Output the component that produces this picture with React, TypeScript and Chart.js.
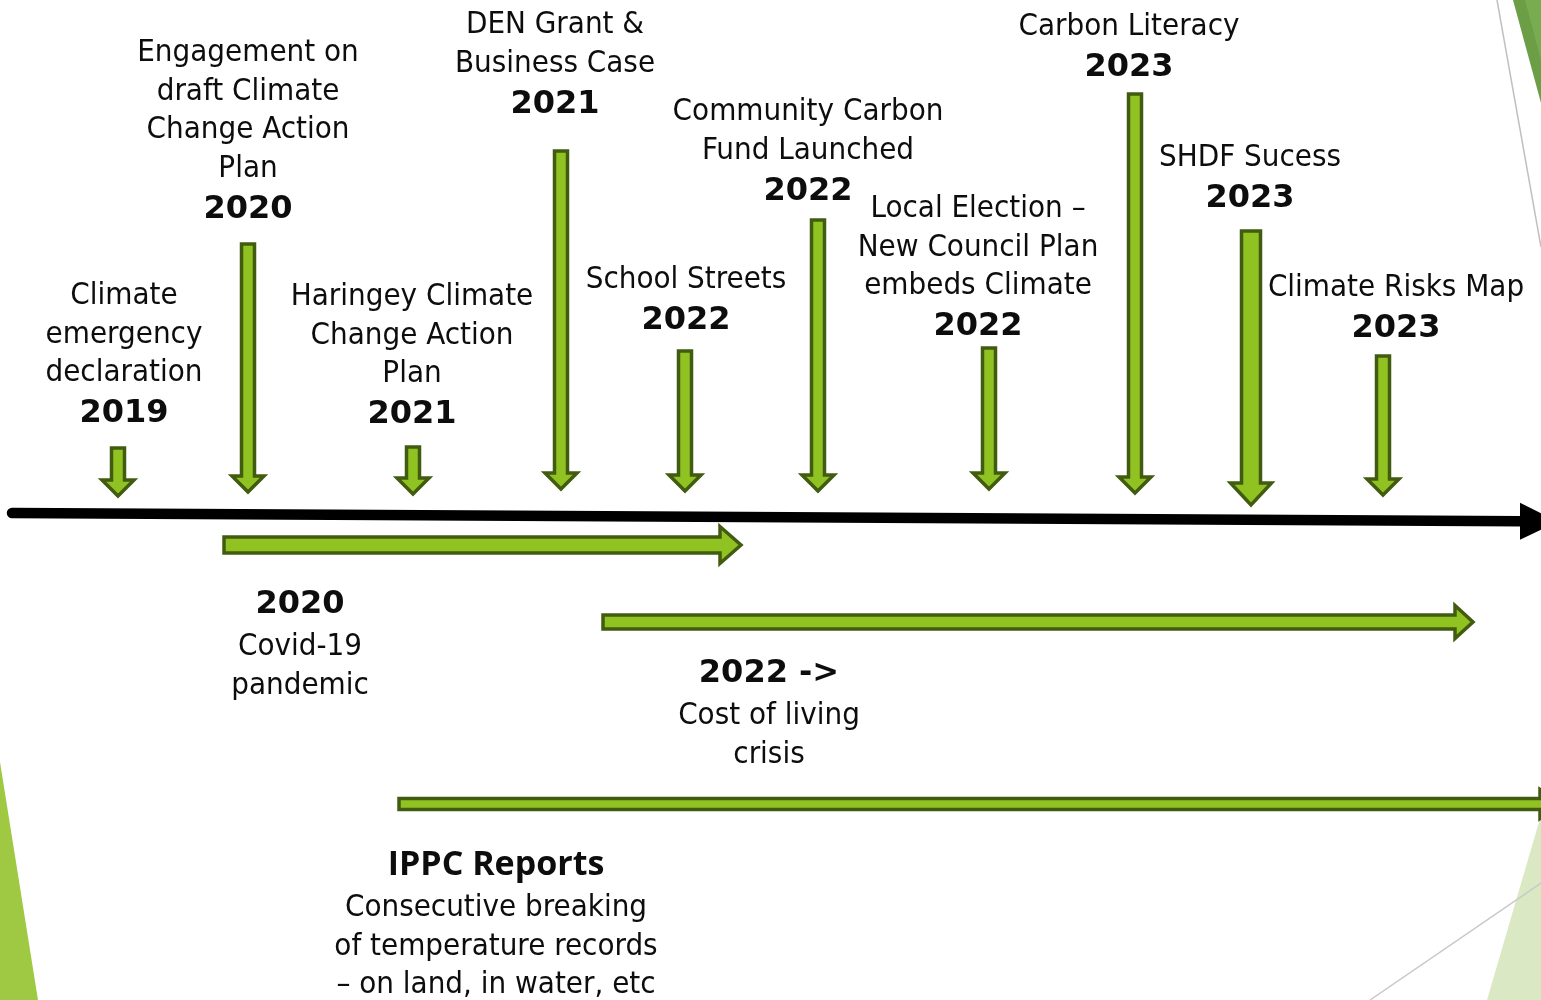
import React, { useEffect, useRef } from "react";
import { Chart, registerables } from "chart.js";

Chart.register(...registerables);

// ---- Events on the timeline (down arrows) ----
const eventTitles: string[][] = [
  ["Climate", "emergency", "declaration"],
  ["Engagement on", "draft Climate", "Change Action", "Plan"],
  ["Haringey Climate", "Change Action", "Plan"],
  ["DEN Grant &", "Business Case"],
  ["School Streets"],
  ["Community Carbon", "Fund Launched"],
  ["Local Election –", "New Council Plan", "embeds Climate"],
  ["Carbon Literacy"],
  ["SHDF Sucess"],
  ["Climate Risks Map"],
];
const eventYears = ["2019", "2020", "2021", "2021", "2022", "2022", "2022", "2023", "2023", "2023"];
const eventArrowX = [118, 248, 413, 561, 685, 818, 989, 1135, 1251, 1383];
const eventArrowTop = [448, 244, 447, 151, 351, 220, 348, 94, 231, 356];
const eventArrowTip = [496, 492, 494, 489, 491, 491, 489, 493, 505, 495];
const eventLabelX = [124, 248, 412, 555, 686, 808, 978, 1129, 1250, 1396];
const eventLabelTop = [293, 50, 294, 22, 277, 109, 206, 24, 155, 285];

// ---- Periods (right arrows) ----
const periodTitles = ["2020", "2022 ->", "IPPC Reports"];
const periodLines: string[][] = [
  ["Covid-19", "pandemic"],
  ["Cost of living", "crisis"],
  ["Consecutive breaking", "of temperature records", "– on land, in water, etc"],
];
const periodStart = [224, 603, 399];
const periodEnd = [741, 1473, 1562];
const periodY = [545, 622, 804];
const periodLabelX = [300, 769, 496];
const periodLabelTop = [602, 671, 862];

// ---- Main timeline ----
const timelineStart = { x: 12, y: 513 };
const timelineEnd = { x: 1558, y: 521.5 };

// ---- Styles ----
const FILL = "#90c222";
const STROKE = "#415c10";
const TEXT = "#0d0d0d";
const NORMAL_FONT = '31px "DejaVu Sans Condensed", "DejaVu Sans", sans-serif';
const YEAR_FONT = 'bold 32px "DejaVu Sans", sans-serif';
const IPPC_FONT = 'bold 34px "Open Sans", sans-serif';
const LINE_H = 38.7;
const TEXT_SHIFT = 3;
const downStyle = (i: number) =>
  i === 8 ? { sw: 9.5, hw: 20.5, hh: 22 } : { sw: 6.5, hw: 16, hh: 16 };
const periodStyle = [
  { sh: 8, hh: 18.5, hl: 21 },
  { sh: 7, hh: 16.5, hl: 18 },
  { sh: 5.5, hh: 14.5, hl: 22 },
];

const diagramPlugin = {
  id: "diagram",
  beforeDatasetsDraw(chart: any) {
    const ctx: CanvasRenderingContext2D = chart.ctx;
    const xs = chart.scales.x;
    const ys = chart.scales.y;
    const P = (x: number, y: number) => [xs.getPixelForValue(x), ys.getPixelForValue(y)];
    const poly = (pts: number[][], fill: string) => {
      ctx.beginPath();
      pts.forEach(([x, y], i) => {
        const [px, py] = P(x, y);
        if (i === 0) ctx.moveTo(px, py);
        else ctx.lineTo(px, py);
      });
      ctx.closePath();
      ctx.fillStyle = fill;
      ctx.fill();
    };
    const line = (a: number[], b: number[], color: string, w: number) => {
      const [ax, ay] = P(a[0], a[1]);
      const [bx, by] = P(b[0], b[1]);
      ctx.beginPath();
      ctx.moveTo(ax, ay);
      ctx.lineTo(bx, by);
      ctx.strokeStyle = color;
      ctx.lineWidth = w;
      ctx.stroke();
    };
    ctx.save();
    // decorative corners
    poly([[1513, 0], [1541, 0], [1541, 103]], "#6b9e45");
    poly([[1525, 0], [1541, 0], [1541, 60]], "#79ab50");
    line([1497, 0], [1541, 247], "#c0c0c0", 1.5);
    poly([[0, 762], [38, 1000], [0, 1000]], "#9fc943");
    poly([[1541, 815], [1487, 1000], [1541, 1000]], "#dbe8c4");
    line([1370, 1000], [1541, 883], "#c8c8c8", 1.5);
    ctx.restore();
  },
  afterDatasetsDraw(chart: any) {
    const ctx: CanvasRenderingContext2D = chart.ctx;
    const xs = chart.scales.x;
    const ys = chart.scales.y;
    const px = (v: number) => xs.getPixelForValue(v);
    const py = (v: number) => ys.getPixelForValue(v);
    ctx.save();

    // main black timeline
    const x0 = px(timelineStart.x), y0 = py(timelineStart.y);
    const x1 = px(timelineEnd.x), y1 = py(timelineEnd.y);
    const headStart = x1 - 38;
    const yAt = (x: number) => y0 + ((x - x0) * (y1 - y0)) / (x1 - x0);
    ctx.beginPath();
    ctx.moveTo(x0, y0);
    ctx.lineTo(headStart + 2, yAt(headStart + 2));
    ctx.strokeStyle = "#000";
    ctx.lineWidth = 10.5;
    ctx.lineCap = "round";
    ctx.stroke();
    ctx.beginPath();
    ctx.moveTo(headStart, yAt(headStart) - 18.5);
    ctx.lineTo(x1, y1);
    ctx.lineTo(headStart, yAt(headStart) + 18.5);
    ctx.closePath();
    ctx.fillStyle = "#000";
    ctx.fill();

    ctx.lineJoin = "miter";
    ctx.lineCap = "butt";
    ctx.lineWidth = 3.5;
    ctx.fillStyle = FILL;
    ctx.strokeStyle = STROKE;

    // period arrows
    const pMeta = chart.getDatasetMeta(1);
    pMeta.data.forEach((el: any, i: number) => {
      const raw = chart.data.datasets[1].data[i];
      const sx = el.x;
      const cy = el.y;
      const tip = px(raw.end);
      const s = periodStyle[i];
      const hs = tip - s.hl;
      ctx.beginPath();
      ctx.moveTo(sx, cy - s.sh);
      ctx.lineTo(hs, cy - s.sh);
      ctx.lineTo(hs, cy - s.hh);
      ctx.lineTo(tip, cy);
      ctx.lineTo(hs, cy + s.hh);
      ctx.lineTo(hs, cy + s.sh);
      ctx.lineTo(sx, cy + s.sh);
      ctx.closePath();
      ctx.fillStyle = FILL;
      ctx.fill();
      ctx.stroke();
    });

    // event arrows
    const eMeta = chart.getDatasetMeta(0);
    eMeta.data.forEach((el: any, i: number) => {
      const raw = chart.data.datasets[0].data[i];
      const cx = el.x;
      const top = el.y;
      const tip = py(raw.tip);
      const s = downStyle(i);
      const hs = tip - s.hh;
      ctx.beginPath();
      ctx.moveTo(cx - s.sw, top);
      ctx.lineTo(cx + s.sw, top);
      ctx.lineTo(cx + s.sw, hs);
      ctx.lineTo(cx + s.hw, hs);
      ctx.lineTo(cx, tip);
      ctx.lineTo(cx - s.hw, hs);
      ctx.lineTo(cx - s.sw, hs);
      ctx.closePath();
      ctx.fillStyle = FILL;
      ctx.fill();
      ctx.stroke();
    });

    // labels
    ctx.fillStyle = TEXT;
    ctx.textAlign = "center";
    ctx.textBaseline = "middle";
    eventTitles.forEach((lines, i) => {
      const cx = px(eventLabelX[i]);
      const y = py(eventLabelTop[i]) + TEXT_SHIFT;
      ctx.font = NORMAL_FONT;
      lines.forEach((t, k) => ctx.fillText(t, cx, y + k * LINE_H));
      ctx.font = YEAR_FONT;
      ctx.fillText(eventYears[i], cx, y + (lines.length - 1) * LINE_H + 40.5);
    });
    periodTitles.forEach((title, i) => {
      const cx = px(periodLabelX[i]);
      const y = py(periodLabelTop[i]) + TEXT_SHIFT;
      ctx.font = i === 2 ? IPPC_FONT : YEAR_FONT;
      ctx.fillText(title, cx, y);
      ctx.font = NORMAL_FONT;
      periodLines[i].forEach((t, k) => ctx.fillText(t, cx, y + (i === 2 ? 43 : 42) + k * LINE_H));
    });
    ctx.restore();
  },
};

export default function App() {
  const ref = useRef<HTMLCanvasElement | null>(null);
  useEffect(() => {
    if (!ref.current) return;
    const chart = new Chart(ref.current, {
      type: "scatter",
      data: {
        datasets: [
          {
            label: "Events",
            data: eventArrowX.map((x, i) => ({ x, y: eventArrowTop[i], tip: eventArrowTip[i] })) as any,
            pointRadius: 0,
            pointHoverRadius: 0,
          },
          {
            label: "Periods",
            data: periodStart.map((x, i) => ({ x, y: periodY[i], end: periodEnd[i] })) as any,
            pointRadius: 0,
            pointHoverRadius: 0,
          },
        ],
      },
      options: {
        animation: false,
        responsive: false,
        devicePixelRatio: 1,
        layout: { padding: 0 },
        events: [],
        scales: {
          x: { type: "linear", min: 0, max: 1541, display: false },
          y: { type: "linear", min: 0, max: 1000, reverse: true, display: false },
        },
        plugins: { legend: { display: false }, tooltip: { enabled: false } },
      },
      plugins: [diagramPlugin],
    });
    return () => chart.destroy();
  }, []);
  return (
    <div style={{ position: "absolute", left: 0, top: 0, width: 1541, height: 1000, background: "#fff" }}>
      <canvas ref={ref} width={1541} height={1000} style={{ display: "block" }} />
    </div>
  );
}
